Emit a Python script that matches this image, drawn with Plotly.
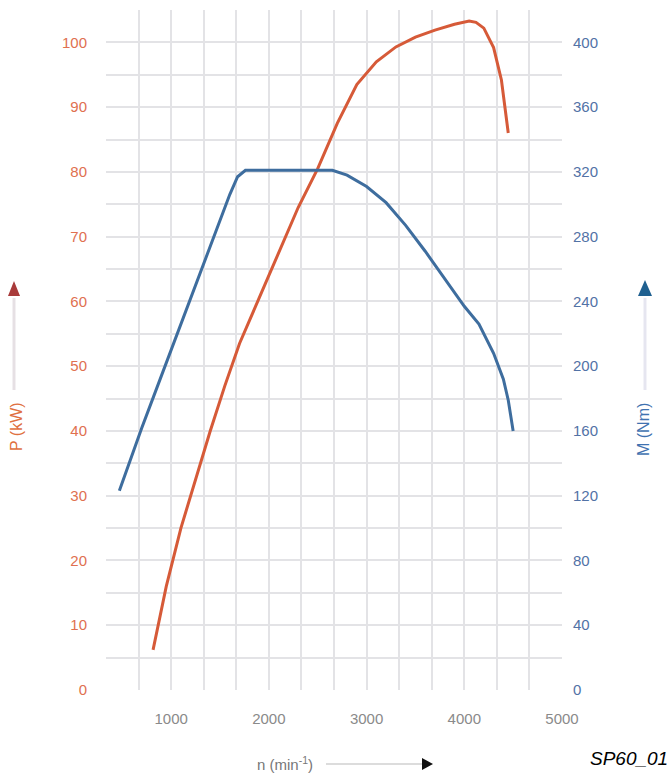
import plotly.graph_objects as go

# ---- data ----
rpm_power = [815, 950, 1100, 1250, 1400, 1550, 1700, 1900, 2100, 2300, 2500, 2700,
             2900, 3100, 3300, 3500, 3700, 3900, 4050, 4120, 4200, 4300, 4380, 4450]
power_kw = [6.2, 16, 25, 32.5, 40, 47, 53.5, 60.5, 67.5, 74.5, 80.5, 87.5,
            93.5, 97, 99.3, 100.8, 101.9, 102.8, 103.3, 103.1, 102.2, 99.2, 94.2, 86]

rpm_torque = [470, 700, 900, 1100, 1300, 1500, 1600, 1680, 1760, 2000, 2400, 2650,
              2800, 3000, 3200, 3400, 3600, 3800, 4000, 4150, 4300, 4400, 4450, 4500]
torque_nm = [123, 162, 194, 226, 258, 290, 306, 317, 321, 321, 321, 321,
             318, 311, 301, 287, 271, 254, 237, 226, 208, 192, 179, 160]

x_ticks = [1000, 2000, 3000, 4000, 5000]
p_ticks = [0, 10, 20, 30, 40, 50, 60, 70, 80, 90, 100]
m_ticks = [0, 40, 80, 120, 160, 200, 240, 280, 320, 360, 400]

RED = "#d65a38"
BLUE = "#3e6d9e"
GRID = "#e3e3e6"
FONT = "Liberation Sans, Arial, sans-serif"

W, H = 672, 773
ML, MR, MT, MB = 106, 110, 10, 83
PW, PH = W - ML - MR, H - MT - MB


def px(x):
    return (x - ML) / PW


def py(y):
    return (H - MB - y) / PH


fig = go.Figure()
fig.add_trace(go.Scatter(x=rpm_power, y=power_kw, mode="lines",
                         line=dict(color=RED, width=3), yaxis="y", showlegend=False))
fig.add_trace(go.Scatter(x=rpm_torque, y=torque_nm, mode="lines",
                         line=dict(color=BLUE, width=3), yaxis="y2", showlegend=False))

fig.update_layout(
    width=W, height=H,
    margin=dict(l=ML, r=MR, t=MT, b=MB),
    paper_bgcolor="white", plot_bgcolor="white",
    font=dict(family=FONT),
    xaxis=dict(range=[1000 / 3, 5000], tickvals=x_ticks, showgrid=True, gridcolor=GRID,
               gridwidth=1.5, zeroline=False, showline=False, ticks="",
               tickfont=dict(size=15, color="#8a8a8a"), ticklabelstandoff=18,
               minor=dict(tick0=0, dtick=1000 / 3, showgrid=True, gridcolor=GRID, gridwidth=1.5)),
    yaxis=dict(range=[0, 105], tickvals=p_ticks, showgrid=True, gridcolor=GRID,
               gridwidth=1.5, zeroline=False, showline=False, ticks="",
               tickfont=dict(size=15, color="#e07050"), ticklabelstandoff=18,
               minor=dict(tick0=0, dtick=5, showgrid=True, gridcolor=GRID, gridwidth=1.5)),
    yaxis2=dict(range=[0, 420], tickvals=m_ticks, overlaying="y", side="right",
                showgrid=False, zeroline=False, showline=False, ticks="",
                tickfont=dict(size=15, color="#5272a6"), ticklabelstandoff=10),
)

shapes = []
annotations = []

# left axis title (P) with arrow
shapes.append(dict(type="line", xref="paper", yref="paper", x0=px(14), x1=px(14),
                   y0=py(390), y1=py(298), line=dict(color="#e6e0e4", width=3)))
shapes.append(dict(type="path", xref="paper", yref="paper",
                   path=f"M {px(8)},{py(296)} L {px(20)},{py(296)} L {px(14)},{py(281)} Z",
                   fillcolor="#a83a3a", line=dict(width=0)))
annotations.append(dict(text="P (kW)", xref="paper", yref="paper", x=px(16), y=py(427),
                        textangle=-90, showarrow=False, xanchor="center", yanchor="middle",
                        font=dict(size=16, color="#e07040", family=FONT)))

# right axis title (M) with arrow
shapes.append(dict(type="line", xref="paper", yref="paper", x0=px(645), x1=px(645),
                   y0=py(390), y1=py(298), line=dict(color="#e6e6f0", width=3)))
shapes.append(dict(type="path", xref="paper", yref="paper",
                   path=f"M {px(638)},{py(296)} L {px(652)},{py(296)} L {px(645)},{py(280)} Z",
                   fillcolor="#1f6090", line=dict(width=0)))
annotations.append(dict(text="M (Nm)", xref="paper", yref="paper", x=px(643), y=py(430),
                        textangle=-90, showarrow=False, xanchor="center", yanchor="middle",
                        font=dict(size=16, color="#3f72b0", family=FONT)))

# bottom axis title (n) with arrow
annotations.append(dict(text="n (min<sup>-1</sup>)", xref="paper", yref="paper", x=px(285), y=py(763),
                        showarrow=False, xanchor="center", yanchor="middle",
                        font=dict(size=15, color="#777777", family=FONT)))
shapes.append(dict(type="line", xref="paper", yref="paper", x0=px(326), x1=px(422),
                   y0=py(764), y1=py(764), line=dict(color="#dcdcdc", width=2)))
shapes.append(dict(type="path", xref="paper", yref="paper",
                   path=f"M {px(422)},{py(758)} L {px(422)},{py(770)} L {px(433)},{py(764)} Z",
                   fillcolor="#111111", line=dict(width=0)))

# figure code
annotations.append(dict(text="<i>SP60_01</i>", xref="paper", yref="paper", x=px(670), y=py(758),
                        showarrow=False, xanchor="right", yanchor="middle",
                        font=dict(size=19, color="#000000", family=FONT)))

fig.update_layout(shapes=shapes, annotations=annotations)
fig.write_html("out.html", config={"displayModeBar": False},
               post_script="document.body.style.margin='0';document.body.style.overflow='hidden';")
